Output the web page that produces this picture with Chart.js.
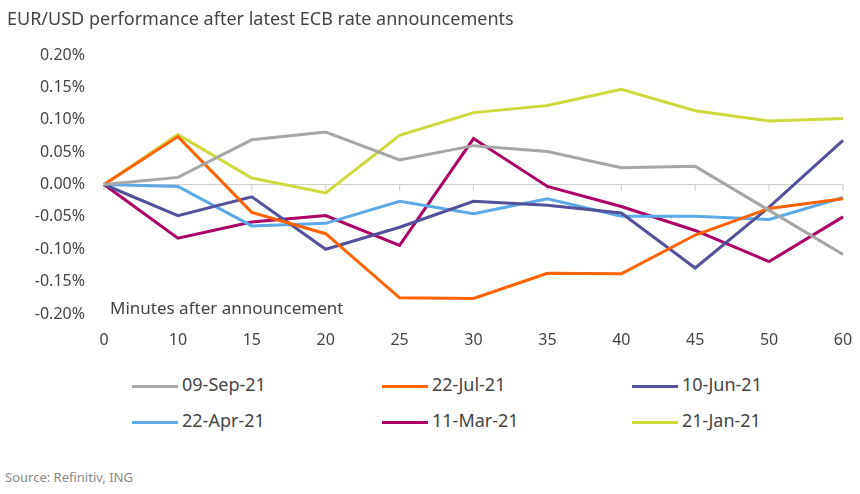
<!DOCTYPE html>
<html>
<head>
<meta charset="utf-8">
<script src="https://cdn.jsdelivr.net/npm/chart.js@4"></script>
<style>
  html, body { margin: 0; background: #fff; font-family: "Noto Sans", sans-serif; color: #444; overflow: hidden; }
  #wrap { position: relative; width: 860px; height: 494px; }
  #title { position: absolute; left: 7px; top: 6px; font-size: 18px; }
  #xname { position: absolute; left: 110px; top: 296px; font-size: 17px; }
  #perfChart { position: absolute; left: 0; top: 0; }
  #legend { position: absolute; left: 132px; top: 372px; width: 750px; }
  .item { position: absolute; font-size: 18px; white-space: nowrap; }
  .item span.ln { display: inline-block; width: 46px; height: 3px; vertical-align: middle; margin-right: 4px; }
  #source { position: absolute; left: 5px; top: 468px; font-size: 13px; color: #888; }
</style>
</head>
<body>
<div id="wrap">
  <canvas id="perfChart" width="860" height="360"></canvas>
  <div id="title">EUR/USD performance after latest ECB rate announcements</div>
  <div id="xname">Minutes after announcement</div>
  <div id="legend"></div>
  <div id="source">Source: Refinitiv, ING</div>
</div>
<script>
// minutes after announcement
const minutes = ['0', '10', '15', '20', '25', '30', '35', '40', '45', '50', '60'];

// % change of EUR/USD
const sep21 = [0, 0.011, 0.069, 0.081, 0.038, 0.060, 0.051, 0.026, 0.028, -0.040, -0.108];
const jul21 = [0, 0.074, -0.043, -0.076, -0.175, -0.176, -0.137, -0.138, -0.078, -0.037, -0.022];
const jun21 = [0, -0.048, -0.019, -0.100, -0.066, -0.026, -0.032, -0.044, -0.129, -0.035, 0.068];
const apr21 = [0, -0.003, -0.064, -0.060, -0.026, -0.045, -0.022, -0.049, -0.049, -0.054, -0.020];
const mar21 = [0, -0.083, -0.058, -0.048, -0.094, 0.071, -0.003, -0.034, -0.071, -0.119, -0.050];
const jan21 = [0, 0.077, 0.010, -0.013, 0.076, 0.111, 0.122, 0.147, 0.114, 0.098, 0.102];

const seriesNames = ['09-Sep-21', '22-Jul-21', '10-Jun-21', '22-Apr-21', '11-Mar-21', '21-Jan-21'];
const seriesData = [sep21, jul21, jun21, apr21, mar21, jan21];
const seriesColors = ['#a6a6a6', '#ff6200', '#525199', '#5aa9e6', '#ab0066', '#d0d93c'];

// zero line with small tick marks, like the original
const zeroAxis = {
  id: 'zeroAxis',
  beforeDatasetsDraw(chart) {
    const { ctx, scales: { x, y } } = chart;
    const y0 = y.getPixelForValue(0);
    ctx.save();
    ctx.strokeStyle = '#cfcfcf';
    ctx.lineWidth = 1.2;
    ctx.beginPath();
    ctx.moveTo(x.left, y0);
    ctx.lineTo(x.right, y0);
    minutes.forEach((m, i) => {
      const px = x.getPixelForValue(i);
      ctx.moveTo(px, y0);
      ctx.lineTo(px, y0 + 6);
    });
    ctx.stroke();
    ctx.restore();
  }
};

const ctx = document.getElementById('perfChart').getContext('2d');
const chart = new Chart(ctx, {
  type: 'line',
  data: {
    labels: minutes,
    datasets: seriesNames.map((name, i) => ({
      label: name,
      data: seriesData[i],
      borderColor: seriesColors[i],
      backgroundColor: seriesColors[i],
      borderWidth: 3,
      pointRadius: 0,
      tension: 0
    }))
  },
  options: {
    responsive: false,
    animation: false,
    layout: { padding: { top: 55, right: 17, left: 0, bottom: 0 } },
    plugins: { legend: { display: false }, tooltip: { enabled: false } },
    scales: {
      x: {
        offset: false,
        grid: { display: false, drawTicks: false },
        border: { display: false },
        ticks: { padding: 17, color: '#444', font: { family: 'Noto Sans', size: 16 }, maxRotation: 0, autoSkip: false },
        afterFit(scale) {
          scale.height = 46;
          scale.paddingLeft = 0;
          scale.paddingRight = 0;
        }
      },
      y: {
        min: -0.2,
        max: 0.2,
        grid: { display: false, drawTicks: false },
        border: { display: false },
        ticks: {
          stepSize: 0.05,
          padding: 19,
          color: '#444',
          font: { family: 'Noto Sans', size: 16 },
          callback: v => v.toFixed(2) + '%'
        },
        afterFit(scale) {
          scale.width = 104;
          scale.paddingTop = 0;
          scale.paddingBottom = 0;
        }
      }
    }
  },
  plugins: [zeroAxis]
});

// legend in three columns
const legend = document.getElementById('legend');
chart.data.datasets.forEach((ds, i) => {
  const div = document.createElement('div');
  div.className = 'item';
  div.style.left = (i % 3) * 250 + 'px';
  div.style.top = Math.floor(i / 3) * 36 + 'px';
  div.innerHTML = '<span class="ln" style="background:' + ds.borderColor + '"></span>' + ds.label;
  legend.appendChild(div);
});
</script>
</body>
</html>
